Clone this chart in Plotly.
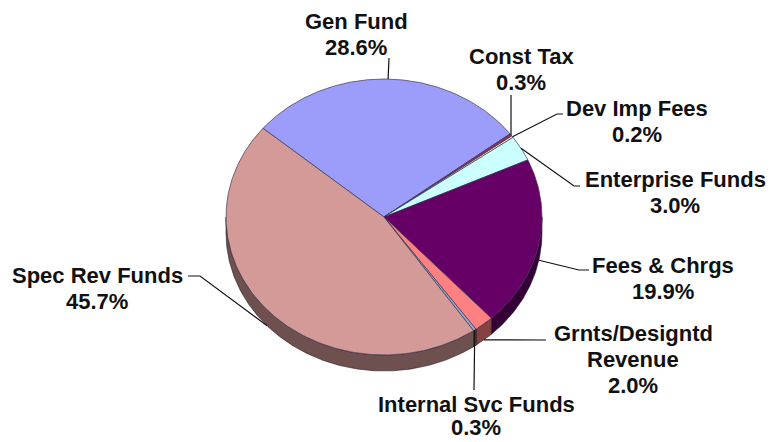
import numpy as np
import plotly.graph_objects as go

# ---------------- data ----------------
categories = ["Gen Fund", "Const Tax", "Dev Imp Fees", "Enterprise Funds",
              "Fees & Chrgs", "Grnts/Designtd Revenue", "Internal Svc Funds",
              "Spec Rev Funds"]
shares = [28.6, 0.3, 0.2, 3.0, 19.9, 2.0, 0.3, 45.7]
label_lines = [["Gen Fund"], ["Const Tax"], ["Dev Imp Fees"], ["Enterprise Funds"],
               ["Fees & Chrgs"], ["Grnts/Designtd", "Revenue"], ["Internal Svc Funds"],
               ["Spec Rev Funds"]]

# ---------------- styles / layout ----------------
colors = ["#9C9CFA", "#8E2F5E", "#FFFFCC", "#CCFFFF", "#660066", "#FF8080",
          "#9AA8CA", "#D49A98"]
SIDE_DARK = 0.52
W, H = 773, 442
CX, CY, RX, RY, DEPTH = 384, 217, 158, 138, 16
START = 140.0  # degrees, slices run clockwise

# label centre (x, y of first line), gap between lines, and leader elbow points
label_pos = [(356, 21), (521, 56), (637, 108), (675, 179),
             (663, 265), (633, 333), (476, 404), (97, 275)]
label_gap = [26, 26, 26, 26, 26, 26, 23, 26]
leader_pts = [[(389, 58)], [(511, 95)], [(557, 114), (563, 114)],
              [(574, 186), (580, 186)], [(579, 270), (589, 270)],
              [(546, 340)], [(474, 390)], [(200, 276), (188, 276)]]


def darken(hexc, f):
    hexc = hexc.lstrip("#")
    r, g, b = (int(hexc[i:i + 2], 16) for i in (0, 2, 4))
    return "rgb(%d,%d,%d)" % (r * f, g * f, b * f)


def ex(t):
    return CX + RX * np.cos(np.radians(t))


def ey(t):
    return CY - RY * np.sin(np.radians(t))


total = sum(shares)
bounds = []
acc = 0.0
for v in shares:
    a = START - acc / total * 360.0
    acc += v
    b = START - acc / total * 360.0
    bounds.append((a, b))

fig = go.Figure()

# side walls (front half only)
for (a, b), c, name in zip(bounds, colors, categories):
    hi = min(a, 0.0)
    lo = max(b, -180.0)
    if hi <= lo:
        continue
    n = max(3, int((hi - lo) * 2))
    t = np.linspace(hi, lo, n)
    xs = np.concatenate([ex(t), ex(t[::-1])])
    ys = np.concatenate([ey(t), ey(t[::-1]) + DEPTH])
    fig.add_trace(go.Scatter(x=np.append(xs, xs[0]), y=np.append(ys, ys[0]),
                             mode="lines", fill="toself",
                             fillcolor=darken(c, SIDE_DARK),
                             line=dict(color="rgba(30,20,30,0.8)", width=0.7),
                             hoverinfo="skip", showlegend=False))

# top faces
for (a, b), c, name, v in zip(bounds, colors, categories, shares):
    n = max(3, int((a - b) * 2))
    t = np.linspace(a, b, n)
    xs = np.concatenate([[CX], ex(t), [CX]])
    ys = np.concatenate([[CY], ey(t), [CY]])
    fig.add_trace(go.Scatter(x=xs, y=ys, mode="lines", fill="toself",
                             fillcolor=c,
                             line=dict(color="rgba(50,50,80,0.85)", width=0.8),
                             name=name, text="%s: %.1f%%" % (name, v),
                             hoveron="fills", hoverinfo="text",
                             showlegend=False))

# leader lines
for (a, b), pts in zip(bounds, leader_pts):
    m = (a + b) / 2.0
    sx, sy = ex(m), ey(m)
    if np.sin(np.radians(m)) < 0 and abs(np.cos(np.radians(m))) > 0.6:
        sy += DEPTH
    elif np.sin(np.radians(m)) < 0 and m < -100:
        sy += DEPTH
    xs = [sx] + [p[0] for p in pts]
    ys = [sy] + [p[1] for p in pts]
    fig.add_trace(go.Scatter(x=xs, y=ys, mode="lines",
                             line=dict(color="#111111", width=1.2),
                             hoverinfo="skip", showlegend=False))

# labels
font = dict(family="Liberation Sans, Arial, sans-serif", size=22, color="#111111")
for lines, v, (lx, ly), gap in zip(label_lines, shares, label_pos, label_gap):
    alllines = lines + ["%.1f%%" % v]
    for i, txt in enumerate(alllines):
        fig.add_annotation(x=lx, y=ly + i * gap, text="<b>%s</b>" % txt,
                           showarrow=False, xanchor="center", yanchor="middle",
                           borderpad=0, font=font)

fig.update_layout(width=W, height=H, margin=dict(l=0, r=0, t=0, b=0),
                  paper_bgcolor="white", plot_bgcolor="white",
                  xaxis=dict(range=[0, W], visible=False, fixedrange=True),
                  yaxis=dict(range=[H, 0], visible=False, fixedrange=True),
                  showlegend=False)

fig.write_html("out.html")
